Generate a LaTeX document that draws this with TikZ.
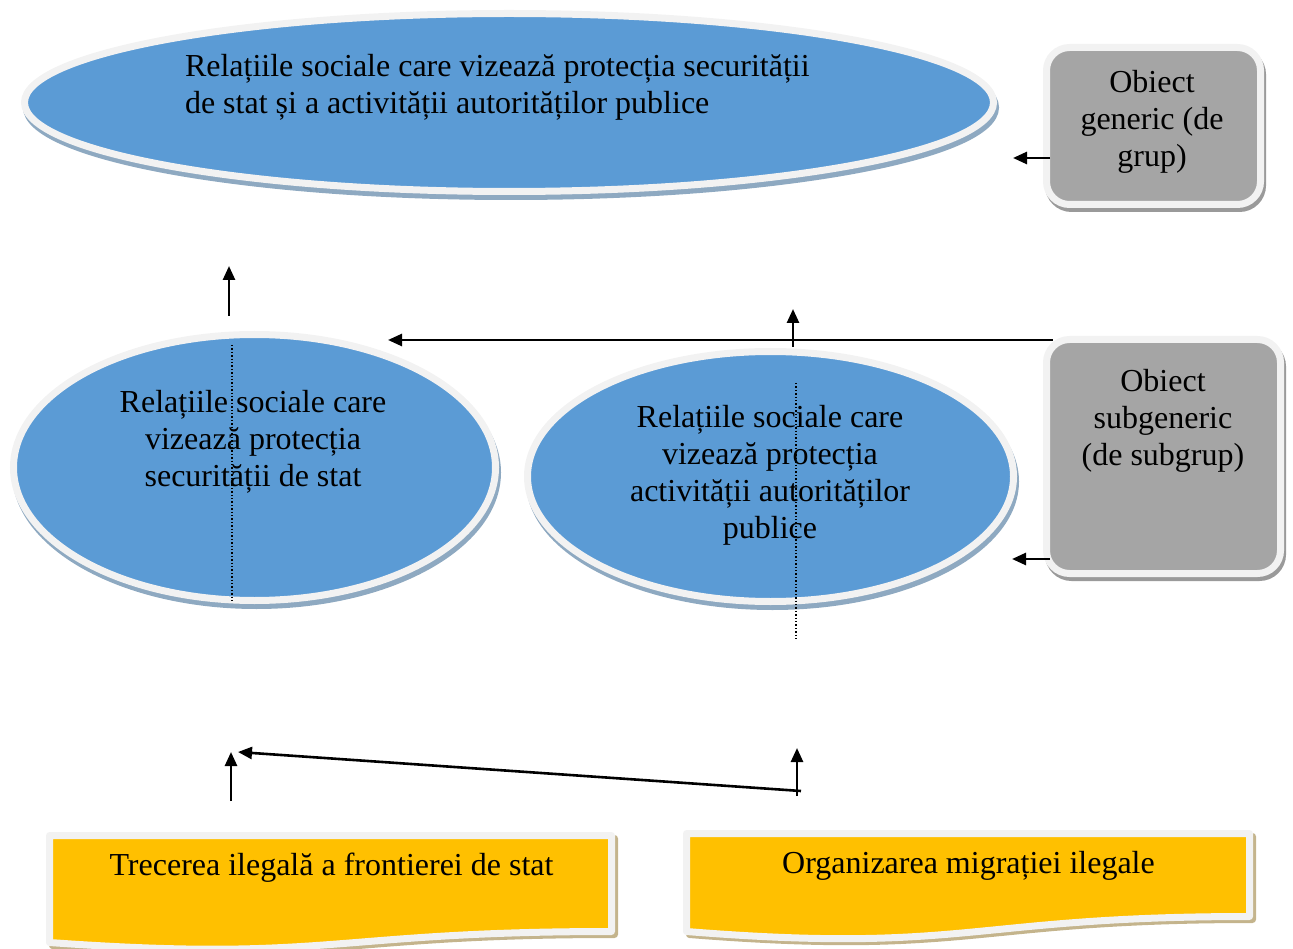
\documentclass[tikz,border=0pt]{standalone}
\usepackage{fontspec}
\setmainfont{Liberation Serif}
\usetikzlibrary{arrows.meta,shapes.geometric}
\definecolor{ovalFill}{HTML}{5B9BD5}
\definecolor{rimC}{HTML}{F2F2F2}
\definecolor{ovalSh}{HTML}{8EA9C1}
\definecolor{boxFill}{HTML}{A5A5A5}
\definecolor{boxSh}{HTML}{9A9A9A}
\definecolor{docFill}{HTML}{FFC000}
\definecolor{docSh}{HTML}{C4B48C}
\begin{document}
\begin{tikzpicture}[x=1pt,y=-1pt,
  lbl/.style={font=\fontsize{32}{37}\selectfont, align=center, inner sep=0pt, outer sep=0pt, text=black},
  oval/.style={ellipse, inner sep=0pt, outer sep=0pt, fill=ovalFill, draw=rimC, line width=7pt,
    preaction={draw=ovalSh, fill=ovalSh, line width=7pt, transform canvas={shift={(2pt,-5pt)}}}},
  tile/.style={rectangle, rounded corners=23pt, inner sep=0pt, outer sep=0pt, fill=boxFill, draw=rimC, line width=7pt,
    preaction={draw=boxSh, fill=boxSh, line width=7pt, transform canvas={shift={(2pt,-4pt)}}}},
  docshadow/.style={draw=docSh, fill=docSh, line width=7pt, line join=round},
  docrim/.style={draw=rimC, fill=docFill, line width=7pt, line join=round},
  link/.style={line width=2.6pt, -{Triangle[length=14pt,width=12pt]}},
  guide/.style={line width=1.4pt, dotted}
]
\useasboundingbox (0,0) rectangle (1293,949);

% generic object: the large oval (text anchored on the baseline of its last line)
\node[oval, minimum width=969pt, minimum height=178pt] (gen) at (509,102.5) {};
\node[lbl, align=left, anchor=base west] (genT) at (185,114)
  {Relațiile sociale care vizează protecția securității\\de stat și a activității autorităților publice};

% subgeneric objects
\node[oval, minimum width=482pt, minimum height=266pt] (sec) at (254.5,467.5) {};
\node[oval, minimum width=486pt, minimum height=250pt] (aut) at (770.5,476.5) {};

% dotted guides through the two ovals
\coordinate (g1a) at (232,345); \coordinate (g1b) at (232,602);
\coordinate (g2a) at (796,383); \coordinate (g2b) at (796,639);
\draw[guide] (g1a) -- (g1b);
\draw[guide] (g2a) -- (g2b);

\node[lbl, anchor=base] (secT) at (253,486) {Relațiile sociale care\\vizează protecția\\securității de stat};
\node[lbl, anchor=base] (autT) at (770,538) {Relațiile sociale care\\vizează protecția\\activității autorităților\\publice};

% legend tiles on the right
\node[tile, minimum width=214pt, minimum height=157pt] (grp) at (1153.5,126) {};
\node[lbl, anchor=base] (grpT) at (1152,167) {Obiect\\generic (de\\grup)};
\node[tile, minimum width=234pt, minimum height=234pt] (sub) at (1163.5,456.5) {};
\node[lbl, anchor=base] (subT) at (1163,465) {Obiect\\subgeneric\\(de subgrup)};

% immediate objects: wavy document shapes
\path[docshadow, shift={(3,3)}] (49.5,835.5) -- (611.5,835.5) -- (611.5,931.5)
  .. controls (330,931.5) and (330,962.5) .. (49.5,942.5) -- cycle;
\path[docrim] (49.5,835.5) -- (611.5,835.5) -- (611.5,931.5)
  .. controls (330,931.5) and (330,962.5) .. (49.5,942.5) -- cycle;
\path[docshadow, shift={(3,3)}] (686.5,833.5) -- (1249.5,833.5) -- (1249.5,916.5)
  .. controls (968,916.5) and (968,954) .. (686.5,931.5) -- cycle;
\path[docrim] (686.5,833.5) -- (1249.5,833.5) -- (1249.5,916.5)
  .. controls (968,916.5) and (968,954) .. (686.5,931.5) -- cycle;
\node[lbl, anchor=base] (ilT) at (331.5,875) {Trecerea ilegală a frontierei de stat};
\node[lbl, anchor=base] (miT) at (968.5,873) {Organizarea migrației ilegale};

% arrow end points
\coordinate (p1) at (1050,158);  \coordinate (q1) at (1013,158);
\coordinate (p2) at (1050,559);  \coordinate (q2) at (1012,559);
\coordinate (p3) at (1053,340);  \coordinate (q3) at (388,340);
\coordinate (p4) at (793,347);   \coordinate (q4) at (793,309);
\coordinate (p5) at (229,316);   \coordinate (q5) at (229,266);
\coordinate (p6) at (231,801);   \coordinate (q6) at (231,752);
\coordinate (p7) at (797,796);   \coordinate (q7) at (797,748);
\coordinate (p8) at (801,791);   \coordinate (q8) at (238,752);

\draw[link] (p1) -- (q1);
\draw[link] (p2) -- (q2);
\draw[link] (p3) -- (q3);
\draw[link] (p4) -- (q4);
\draw[link] (p5) -- (q5);
\draw[link] (p6) -- (q6);
\draw[link] (p7) -- (q7);
\draw[link] (p8) -- (q8);
\end{tikzpicture}
\end{document}
